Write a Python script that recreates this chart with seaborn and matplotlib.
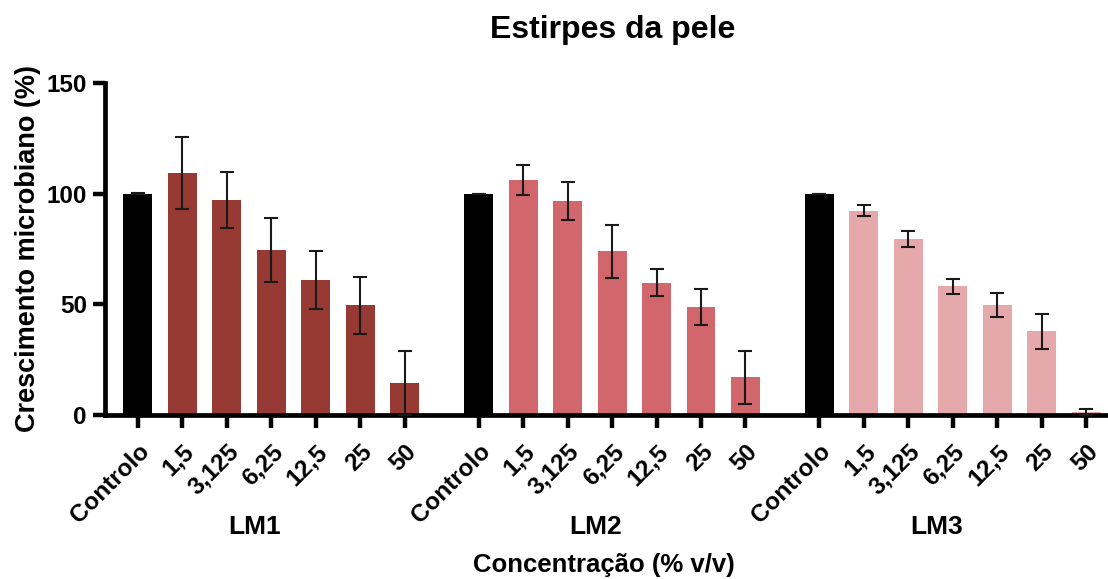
import pandas as pd
import seaborn as sns
import matplotlib.pyplot as plt

strains = ['LM1', 'LM2', 'LM3']
concentrations = ['Controlo', '1,5', '3,125', '6,25', '12,5', '25', '50']

lm1_mean = [100, 109.5, 97, 74.7, 61, 49.5, 14.5]
lm1_err = [0.3, 16.3, 12.7, 14.5, 13, 12.9, 14.3]
lm2_mean = [100, 106.2, 96.7, 73.9, 59.8, 48.7, 17.1]
lm2_err = [0, 6.6, 8.6, 11.9, 6.2, 8.2, 12]
lm3_mean = [100, 92.3, 79.5, 58.2, 49.6, 37.8, 1.4]
lm3_err = [0, 2.4, 3.5, 3.4, 5.5, 7.8, 1.3]

means = [lm1_mean, lm2_mean, lm3_mean]
errs = [lm1_err, lm2_err, lm3_err]

palette = {'Controlo': '#000000', 'LM1': '#973a33', 'LM2': '#d1666c', 'LM3': '#e5a9ab'}
group_step = 7.66  # gap between strain groups, in bar slots
fonts = ['Liberation Sans', 'DejaVu Sans']

rows = []
for g, strain in enumerate(strains):
    for i, conc in enumerate(concentrations):
        rows.append({
            'strain': strain,
            'conc': conc,
            'pos': g * group_step + i,
            'mean': means[g][i],
            'err': errs[g][i],
            'fill': 'Controlo' if conc == 'Controlo' else strain,
        })
df = pd.DataFrame(rows)

sns.set_theme(style='ticks')
plt.rcParams['font.family'] = fonts
plt.rcParams['font.weight'] = 'bold'
plt.rcParams['text.color'] = 'black'

fig = plt.figure(figsize=(11.08, 5.79), dpi=100)
ax = fig.add_axes([105 / 1108, 1 - 415 / 579, 1 - 105 / 1108, 332 / 579])

sns.barplot(data=df, x='pos', y='mean', hue='fill', palette=palette,
            native_scale=True, width=0.65, dodge=False, legend=False,
            errorbar=None, saturation=1, linewidth=0, ax=ax)
ax.errorbar(df['pos'], df['mean'], yerr=df['err'], fmt='none',
            ecolor='#1a1a1a', elinewidth=1.5, capsize=5, capthick=1.5, zorder=3)

ax.set_ylim(0, 150)
ax.set_yticks([0, 50, 100, 150])
ax.set_xlim(-0.74, 2 * group_step + 6.49)
ax.set_xticks(df['pos'])
ax.set_xticklabels(df['conc'], rotation=45, ha='right', rotation_mode='anchor')
ax.set_xlabel('')
ax.set_ylabel('')

sns.despine(ax=ax)
for side in ['left', 'bottom']:
    ax.spines[side].set_linewidth(3.4)
    ax.spines[side].set_color('black')
ax.tick_params(axis='both', length=9, width=3.2, color='black', labelcolor='black', pad=4)
ax.tick_params(axis='x', pad=9)
for lab in ax.get_xticklabels() + ax.get_yticklabels():
    lab.set_fontfamily(fonts)
    lab.set_fontweight('bold')
    lab.set_fontsize(17.5)

for g, strain in enumerate(strains):
    ax.text(g * group_step + 2.63, -0.337, strain, transform=ax.get_xaxis_transform(),
            ha='center', va='center', fontsize=19, fontweight='bold', color='black')

fig.text(613 / 1108, 1 - 30 / 579, 'Estirpes da pele', ha='center', va='center',
         fontsize=23, fontweight='bold', color='black')
fig.text(28 / 1108, 1 - 249 / 579, 'Crescimento microbiano (%)', rotation=90,
         ha='center', va='center', fontsize=19.5, fontweight='bold', color='black')
fig.text(604 / 1108, 1 - 565 / 579, 'Concentração (% v/v)', ha='center', va='center',
         fontsize=18.5, fontweight='bold', color='black')

fig.savefig('out.png', dpi=100)
